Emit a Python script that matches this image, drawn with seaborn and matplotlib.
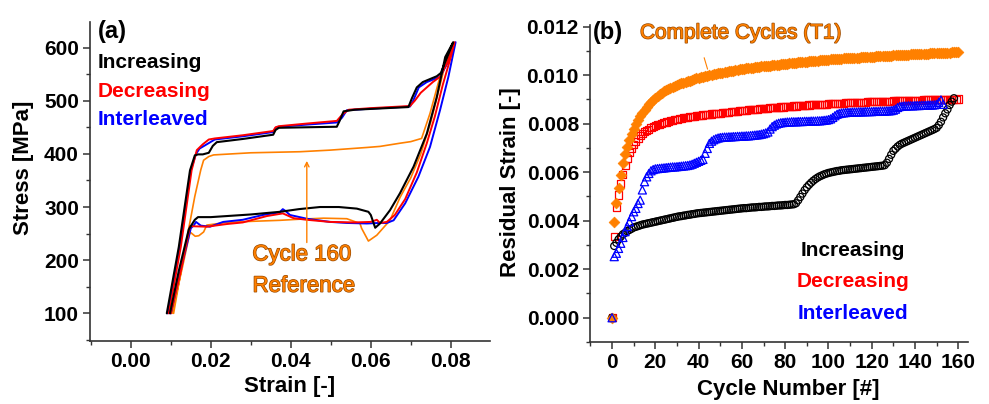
import numpy as np
import pandas as pd
import matplotlib
matplotlib.use("Agg")
import matplotlib.pyplot as plt
import matplotlib.patheffects as pe
from matplotlib.ticker import MultipleLocator, FormatStrFormatter
import seaborn as sns

# ---------------- Panel (a): stress-strain loops ----------------
inc_strain = [0.0090, 0.0120, 0.0148, 0.0160, 0.0168, 0.0180, 0.0195, 0.0205, 0.0215, 0.0280, 0.0356,
              0.0362, 0.0370, 0.0440, 0.0515, 0.0522, 0.0532, 0.0560, 0.0640, 0.0694, 0.0703, 0.0715,
              0.0730, 0.0765, 0.0775, 0.0790, 0.0806,
              0.0786, 0.0765, 0.0740, 0.0707, 0.0673, 0.0648, 0.0623, 0.0611, 0.0600, 0.0594, 0.0565,
              0.0520, 0.0473, 0.0420, 0.0373, 0.0300, 0.0240, 0.0200, 0.0168, 0.0160, 0.0145, 0.0120, 0.0098]
inc_stress = [100, 225, 369, 397, 399, 399, 402, 415, 422, 428, 436,
              445, 449, 450, 451, 462, 480, 483, 486, 488, 505, 525,
              535, 546, 552, 580, 610,
              582, 507, 438, 376, 326, 294, 269, 261, 285, 291, 297,
              300, 300, 296, 291, 286, 283, 281, 281, 276, 258, 180, 100]

dec_strain = [0.0095, 0.0125, 0.0152, 0.0165, 0.0180, 0.0195, 0.0210, 0.0280, 0.0356, 0.0362, 0.0370,
              0.0440, 0.0515, 0.0530, 0.0545, 0.0600, 0.0698, 0.0710, 0.0725, 0.0740, 0.0755, 0.0773,
              0.0790, 0.0809,
              0.0800, 0.0780, 0.0760, 0.0740, 0.0715, 0.0686, 0.0660, 0.0640, 0.0623, 0.0615, 0.0600,
              0.0560, 0.0498, 0.0440, 0.0407, 0.0380, 0.0340, 0.0280, 0.0240, 0.0190, 0.0148, 0.0125, 0.0100]
dec_stress = [100, 225, 369, 407, 418, 427, 429, 435, 443, 450, 452,
              457, 462, 475, 483, 486, 490, 500, 515, 525, 535, 545,
              570, 610,
              582, 530, 470, 420, 365, 315, 285, 272, 270, 276, 272,
              271, 272, 276, 279, 288, 283, 271, 268, 263, 264, 180, 100]

int_strain = [0.0092, 0.0122, 0.0150, 0.0163, 0.0172, 0.0190, 0.0210, 0.0280, 0.0356, 0.0362, 0.0370,
              0.0440, 0.0515, 0.0528, 0.0540, 0.0600, 0.0698, 0.0706, 0.0720, 0.0740, 0.0773, 0.0795,
              0.0812,
              0.0794, 0.0773, 0.0748, 0.0719, 0.0686, 0.0657, 0.0640, 0.0620, 0.0590, 0.0540, 0.0498,
              0.0440, 0.0398, 0.0386, 0.0380, 0.0372, 0.0330, 0.0280, 0.0231, 0.0198, 0.0175, 0.0163,
              0.0158, 0.0150, 0.0124, 0.0100]
int_stress = [100, 225, 369, 400, 410, 418, 427, 433, 441, 449, 451,
              455, 459, 468, 482, 485, 489, 500, 525, 535, 545, 575,
              610,
              545, 482, 413, 357, 307, 275, 270, 270, 269, 270, 272,
              278, 285, 293, 296, 290, 285, 276, 272, 263, 265, 272,
              266, 260, 180, 100]

ref_strain = [0.0107, 0.0135, 0.0160, 0.0175, 0.0182, 0.0195, 0.0207, 0.0300, 0.0423, 0.0498, 0.0590,
              0.0623, 0.0673, 0.0700, 0.0727, 0.0748, 0.0773, 0.0794, 0.0804,
              0.0790, 0.0770, 0.0750, 0.0725, 0.0700, 0.0673, 0.0648, 0.0615, 0.0594, 0.0577, 0.0573,
              0.0540, 0.0482, 0.0420, 0.0373, 0.0300, 0.0240, 0.0190, 0.0182, 0.0170, 0.0161, 0.0148,
              0.0130, 0.0103]
ref_stress = [100, 220, 320, 370, 388, 395, 398, 402, 404, 407, 412,
              414, 420, 423, 429, 476, 545, 589, 605,
              580, 520, 460, 400, 355, 318, 275, 247, 236, 260, 269,
              278, 279, 277, 275, 273, 271, 266, 253, 246, 245, 253,
              190, 100]

# ---------------- Panel (b): residual strain vs cycle (units of 1e-3) ----------------
complete_T1 = [0,
    3.96, 4.74, 5.33, 5.89, 6.36, 6.75, 7.05, 7.33, 7.57, 7.80,
    7.98, 8.15, 8.30, 8.44, 8.57, 8.69, 8.80, 8.90, 8.99, 9.08,
    9.15, 9.22, 9.28, 9.34, 9.39, 9.44, 9.48, 9.52, 9.56, 9.60,
    9.63, 9.66, 9.69, 9.72, 9.75, 9.78, 9.81, 9.84, 9.87, 9.90,
    9.92, 9.94, 9.96, 9.98, 10.00, 10.02, 10.04, 10.06, 10.08, 10.10,
    10.11, 10.13, 10.15, 10.16, 10.18, 10.19, 10.21, 10.22, 10.24, 10.25,
    10.26, 10.28, 10.29, 10.30, 10.31, 10.33, 10.34, 10.35, 10.36, 10.37,
    10.38, 10.39, 10.40, 10.41, 10.42, 10.43, 10.44, 10.45, 10.46, 10.47,
    10.48, 10.49, 10.50, 10.51, 10.52, 10.53, 10.54, 10.55, 10.55, 10.56,
    10.57, 10.58, 10.59, 10.60, 10.60, 10.61, 10.62, 10.63, 10.63, 10.64,
    10.65, 10.66, 10.66, 10.67, 10.68, 10.68, 10.69, 10.70, 10.70, 10.71,
    10.72, 10.72, 10.73, 10.73, 10.74, 10.75, 10.75, 10.76, 10.76, 10.77,
    10.77, 10.78, 10.78, 10.79, 10.79, 10.80, 10.80, 10.81, 10.81, 10.82,
    10.82, 10.83, 10.83, 10.84, 10.84, 10.85, 10.85, 10.86, 10.86, 10.87,
    10.87, 10.88, 10.88, 10.89, 10.89, 10.89, 10.90, 10.90, 10.91, 10.91,
    10.91, 10.92, 10.92, 10.93, 10.93, 10.93, 10.94, 10.94, 10.95, 10.95]

decreasing_b = [0,
    3.34, 4.55, 5.06, 5.54, 5.89, 6.27, 6.57, 6.80, 6.98, 7.16,
    7.28, 7.40, 7.50, 7.59, 7.67, 7.73, 7.78, 7.83, 7.87, 7.91,
    7.95, 7.98, 8.01, 8.04, 8.07, 8.09, 8.12, 8.14, 8.16, 8.18,
    8.20, 8.22, 8.24, 8.25, 8.27, 8.28, 8.30, 8.31, 8.32, 8.34,
    8.35, 8.36, 8.37, 8.38, 8.39, 8.40, 8.41, 8.42, 8.43, 8.44,
    8.45, 8.46, 8.47, 8.48, 8.49, 8.50, 8.51, 8.52, 8.53, 8.54,
    8.55, 8.56, 8.57, 8.58, 8.58, 8.59, 8.60, 8.61, 8.62, 8.63,
    8.63, 8.64, 8.65, 8.66, 8.66, 8.67, 8.68, 8.69, 8.69, 8.70,
    8.71, 8.71, 8.72, 8.73, 8.73, 8.74, 8.75, 8.75, 8.76, 8.76,
    8.77, 8.78, 8.78, 8.79, 8.79, 8.80, 8.80, 8.81, 8.81, 8.82,
    8.82, 8.83, 8.83, 8.84, 8.84, 8.85, 8.85, 8.86, 8.86, 8.86,
    8.87, 8.87, 8.88, 8.88, 8.88, 8.89, 8.89, 8.90, 8.90, 8.90,
    8.91, 8.91, 8.91, 8.92, 8.92, 8.92, 8.93, 8.93, 8.93, 8.94,
    8.94, 8.94, 8.95, 8.95, 8.95, 8.95, 8.96, 8.96, 8.96, 8.97,
    8.97, 8.97, 8.97, 8.98, 8.98, 8.98, 8.98, 8.99, 8.99, 8.99,
    8.99, 9.00, 9.00, 9.00, 9.00, 9.01, 9.01, 9.01, 9.01, 9.02]

interleaved_b = [0,
    2.52, 2.66, 2.86, 3.07, 3.31, 3.55, 3.76, 3.96, 4.17, 4.37,
    4.51, 4.71, 4.85, 5.27, 5.61, 5.81, 5.95, 6.06, 6.11, 6.14,
    6.15, 6.16, 6.17, 6.18, 6.19, 6.20, 6.21, 6.22, 6.22, 6.23,
    6.24, 6.25, 6.26, 6.27, 6.28, 6.30, 6.33, 6.37, 6.41, 6.45,
    6.49, 6.53, 6.78, 6.98, 7.19, 7.28, 7.34, 7.38, 7.41, 7.43,
    7.44, 7.45, 7.45, 7.46, 7.46, 7.47, 7.47, 7.48, 7.48, 7.49,
    7.49, 7.50, 7.50, 7.51, 7.52, 7.53, 7.54, 7.55, 7.57, 7.59,
    7.62, 7.66, 7.78, 7.88, 7.94, 7.99, 8.02, 8.04, 8.05, 8.06,
    8.07, 8.07, 8.08, 8.08, 8.08, 8.09, 8.09, 8.09, 8.10, 8.10,
    8.10, 8.11, 8.11, 8.11, 8.12, 8.12, 8.13, 8.14, 8.15, 8.17,
    8.20, 8.26, 8.33, 8.39, 8.42, 8.44, 8.45, 8.46, 8.47, 8.47,
    8.48, 8.48, 8.48, 8.49, 8.49, 8.49, 8.50, 8.50, 8.50, 8.50,
    8.51, 8.51, 8.51, 8.52, 8.52, 8.52, 8.53, 8.53, 8.54, 8.56,
    8.60, 8.67, 8.71, 8.72, 8.73, 8.73, 8.74, 8.74, 8.74, 8.75,
    8.75, 8.75, 8.76, 8.76, 8.76, 8.77, 8.77, 8.77, 8.78, 8.80,
    8.88, 8.98, 8.80]

increasing_b = [0,
    2.96, 3.09, 3.23, 3.34, 3.44, 3.50, 3.57, 3.62, 3.67, 3.72,
    3.75, 3.78, 3.81, 3.84, 3.86, 3.88, 3.90, 3.92, 3.94, 3.96,
    3.98, 4.00, 4.02, 4.04, 4.06, 4.08, 4.10, 4.12, 4.14, 4.16,
    4.18, 4.19, 4.21, 4.22, 4.24, 4.25, 4.27, 4.28, 4.30, 4.31,
    4.32, 4.33, 4.34, 4.35, 4.36, 4.37, 4.38, 4.39, 4.40, 4.41,
    4.42, 4.43, 4.44, 4.45, 4.46, 4.47, 4.48, 4.49, 4.50, 4.51,
    4.52, 4.52, 4.53, 4.54, 4.55, 4.55, 4.56, 4.57, 4.57, 4.58,
    4.59, 4.59, 4.60, 4.61, 4.61, 4.62, 4.63, 4.63, 4.64, 4.65,
    4.65, 4.66, 4.67, 4.68, 4.72, 4.84, 4.98, 5.12, 5.26, 5.38,
    5.48, 5.57, 5.65, 5.72, 5.78, 5.83, 5.87, 5.91, 5.94, 5.97,
    5.99, 6.01, 6.03, 6.05, 6.06, 6.08, 6.09, 6.10, 6.11, 6.12,
    6.13, 6.14, 6.15, 6.16, 6.17, 6.18, 6.19, 6.20, 6.21, 6.22,
    6.23, 6.24, 6.25, 6.26, 6.27, 6.29, 6.39, 6.55, 6.72, 6.88,
    6.97, 7.06, 7.13, 7.18, 7.22, 7.26, 7.30, 7.34, 7.38, 7.42,
    7.46, 7.50, 7.54, 7.58, 7.62, 7.66, 7.70, 7.74, 7.78, 7.83,
    7.94, 8.08, 8.26, 8.43, 8.59, 8.77, 8.91, 9.05]

# ---------------- styling ----------------
sns.set_theme(style="ticks")
plt.rcParams["font.family"] = ["Liberation Sans", "DejaVu Sans"]
plt.rcParams["font.weight"] = "bold"
plt.rcParams["axes.labelweight"] = "bold"
plt.rcParams["text.color"] = "black"
plt.rcParams["axes.labelcolor"] = "black"
plt.rcParams["xtick.labelcolor"] = "black"
plt.rcParams["ytick.labelcolor"] = "black"

BLACK = "#000000"
RED = "#FF0000"
BLUE = "#0000FF"
ORANGE = "#FF8000"

fig = plt.figure(figsize=(9.89, 4.04), dpi=100)
axa = fig.add_axes([90 / 989, 1 - 341 / 404, 400 / 989, 319 / 404])
axb = fig.add_axes([590 / 989, 1 - 342 / 404, 378 / 989, 317 / 404])

# ---- panel (a)
curves = [
    (ref_strain, ref_stress, ORANGE, 1.2),
    (int_strain, int_stress, BLUE, 1.4),
    (dec_strain, dec_stress, RED, 1.4),
    (inc_strain, inc_stress, BLACK, 1.5),
]
for xs, ys, col, lw in curves:
    df = pd.DataFrame({"strain": xs, "stress": ys})
    sns.lineplot(data=df, x="strain", y="stress", sort=False, estimator=None,
                 color=col, lw=lw, ax=axa)

axa.set_xlim(-0.0102, 0.0898)
axa.set_ylim(48, 648)
axa.set_xticks([0.00, 0.02, 0.04, 0.06, 0.08])
axa.xaxis.set_major_formatter(FormatStrFormatter("%.2f"))
axa.xaxis.set_minor_locator(MultipleLocator(0.01))
axa.set_yticks([100, 200, 300, 400, 500, 600])
axa.yaxis.set_minor_locator(MultipleLocator(50))

axa.text(0.02, 0.969, "(a)", transform=axa.transAxes, fontsize=17, fontweight="bold",
         ha="left", va="center", color="black")
axa.text(0.02, 0.872, "Increasing", transform=axa.transAxes, fontsize=15, fontweight="bold",
         ha="left", va="center", color=BLACK)
axa.text(0.02, 0.781, "Decreasing", transform=axa.transAxes, fontsize=15, fontweight="bold",
         ha="left", va="center", color=RED)
axa.text(0.02, 0.693, "Interleaved", transform=axa.transAxes, fontsize=15, fontweight="bold",
         ha="left", va="center", color=BLUE)
stroke = [pe.withStroke(linewidth=1.0, foreground="#9A4A00")]
axa.text(0.0428, 210, "Cycle 160", fontsize=16, fontweight="normal", ha="center", va="center",
         color=ORANGE, path_effects=stroke)
axa.text(0.0433, 151, "Reference", fontsize=16, fontweight="normal", ha="center", va="center",
         color=ORANGE, path_effects=stroke)
axa.annotate("", xy=(0.0440, 392), xytext=(0.0440, 228),
             arrowprops=dict(arrowstyle="->", color=ORANGE, lw=1.0, mutation_scale=8))

axa.set_xlabel("Strain [-]", fontsize=16, fontweight="bold", va="center", color="black")
axa.set_ylabel("Stress [MPa]", fontsize=16, fontweight="bold", va="center", color="black")
axa.xaxis.set_label_coords(0.5, -0.144)
axa.yaxis.set_label_coords(-0.1675, 0.542)

# ---- panel (b)
cyc_o = list(range(len(complete_T1)))
cyc_r = list(range(len(decreasing_b)))
cyc_k = list(range(len(increasing_b)))
cyc_bl = list(range(len(interleaved_b)))

sns.scatterplot(x=cyc_r, y=np.array(decreasing_b) * 1e-3, marker="s", s=26,
                facecolor="none", edgecolor=RED, linewidth=0.9, ax=axb, zorder=3)
sns.scatterplot(x=cyc_k, y=np.array(increasing_b) * 1e-3, marker="o", s=26,
                facecolor="none", edgecolor=BLACK, linewidth=0.9, ax=axb, zorder=3)
sns.scatterplot(x=cyc_o, y=np.array(complete_T1) * 1e-3, marker="D", s=30,
                color=ORANGE, edgecolor=ORANGE, linewidth=0.5, ax=axb, zorder=3)
sns.scatterplot(x=cyc_bl, y=np.array(interleaved_b) * 1e-3, marker="^", s=34,
                facecolor="none", edgecolor=BLUE, linewidth=0.9, ax=axb, zorder=4)

axb.set_xlim(-10.2, 164.5)
axb.set_ylim(-0.001, 0.01207)
axb.set_xticks([0, 20, 40, 60, 80, 100, 120, 140, 160])
axb.xaxis.set_minor_locator(MultipleLocator(10))
axb.set_yticks([0.000, 0.002, 0.004, 0.006, 0.008, 0.010, 0.012])
axb.yaxis.set_major_formatter(FormatStrFormatter("%.3f"))
axb.yaxis.set_minor_locator(MultipleLocator(0.001))

axb.text(0.008, 0.975, "(b)", transform=axb.transAxes, fontsize=17, fontweight="bold",
         ha="left", va="center", color="black")
axb.text(12.9, 0.01174, "Complete Cycles (T1)", fontsize=15, fontweight="normal",
         ha="left", va="center", color=ORANGE, path_effects=stroke)
axb.annotate("", xy=(44.5, 0.01014), xytext=(42.2, 0.01083),
             arrowprops=dict(arrowstyle="-", color=ORANGE, lw=0.8))
axb.text(111.4, 0.00279, "Increasing", fontsize=15, fontweight="bold", ha="center",
         va="center", color=BLACK)
axb.text(111.4, 0.00148, "Decreasing", fontsize=15, fontweight="bold", ha="center",
         va="center", color=RED)
axb.text(111.4, 0.00018, "Interleaved", fontsize=15, fontweight="bold", ha="center",
         va="center", color=BLUE)

axb.set_xlabel("Cycle Number [#]", fontsize=16, fontweight="bold", va="center", color="black")
axb.set_ylabel("Residual Strain [-]", fontsize=16, fontweight="bold", va="center", color="black")
axb.xaxis.set_label_coords(0.524, -0.151)
axb.yaxis.set_label_coords(-0.2116, 0.505)

for ax in (axa, axb):
    sns.despine(ax=ax)
    for sp in ("left", "bottom"):
        ax.spines[sp].set_linewidth(1.2)
        ax.spines[sp].set_color("#333333")
    ax.tick_params(which="major", direction="out", length=5, width=1.1, color="#333333",
                   labelsize=15, pad=3, labelcolor="black")
    ax.tick_params(which="minor", direction="out", length=3, width=1.0, color="#333333")
    for lab in ax.get_xticklabels() + ax.get_yticklabels():
        lab.set_fontweight("bold")
        lab.set_color("black")
    ax.grid(False)

fig.savefig("out.png", dpi=100)
